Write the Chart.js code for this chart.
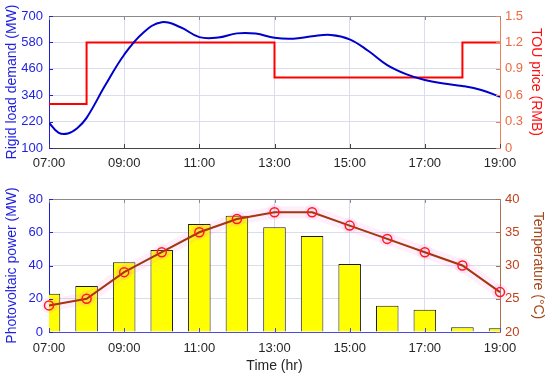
<!DOCTYPE html>
<html>
<head>
<meta charset="utf-8">
<script src="https://cdn.jsdelivr.net/npm/chart.js@4.4.1/dist/chart.umd.min.js"></script>
<style>
  html, body { margin: 0; padding: 0; background: #fff; }
  #wrap { position: relative; width: 550px; height: 375px; }
  #loadChart { position: absolute; left: 0; top: 0; }
  #pvChart { position: absolute; left: 0; top: 175px; }
</style>
</head>
<body>
<div id="wrap">
  <canvas id="loadChart" width="550" height="175"></canvas>
  <canvas id="pvChart" width="550" height="200"></canvas>
</div>
<script>
// top panel: rigid load demand and TOU price steps
const loadHours = [7, 7.25, 7.5, 7.75, 8, 8.5, 9, 9.5, 10, 10.5, 11, 11.5, 12, 12.5, 13, 13.5, 14, 14.5, 15, 15.5, 16, 16.5, 17, 17.5, 18, 18.5, 19];
const loadDemand = [215, 170, 166, 190, 237, 386, 524, 623, 672, 649, 604, 602, 621, 620, 601, 597, 608, 614, 594, 541, 477, 436, 409, 393, 382, 364, 333];
const priceHours = [7, 8, 13, 18, 19];
const touPrice = [0.5, 1.2, 0.8, 1.2, 1.2];

// bottom panel: hourly PV output and temperature
const hours = [7, 8, 9, 10, 11, 12, 13, 14, 15, 16, 17, 18, 19];
const pvPower = [23, 27.7, 42, 49.3, 65, 70, 63, 57.7, 40.9, 15.8, 13.4, 2.8, 2.2];
const temperature = [24, 25, 29, 32, 35, 37, 38, 38, 36, 34, 32, 30, 26];

const FONT = 'Liberation Sans, Arial, Helvetica, sans-serif';
const GRID = '#dcdcf0';
const BLUE = '#1f1fe0';

const toXY = (xs, ys) => xs.map((x, i) => ({ x: x, y: ys[i] }));
const hourLabel = v => (v < 10 ? '0' : '') + v + ':00';

// matlab style frame: grey top edge and short inward ticks
const framePlugin = {
  id: 'frame',
  afterDatasetsDraw(chart, args, opts) {
    const { ctx, chartArea: a, scales } = chart;
    const len = 4;
    ctx.save();
    ctx.lineWidth = 1;
    ctx.strokeStyle = opts.topColor;
    ctx.beginPath();
    ctx.moveTo(a.left, a.top + 0.5);
    ctx.lineTo(a.right, a.top + 0.5);
    ctx.stroke();

    scales.x.ticks.forEach(t => {
      const px = Math.round(scales.x.getPixelForValue(t.value)) + 0.5;
      ctx.strokeStyle = opts.xColor;
      ctx.beginPath(); ctx.moveTo(px, a.bottom); ctx.lineTo(px, a.bottom - len); ctx.stroke();
      ctx.strokeStyle = opts.topColor;
      ctx.beginPath(); ctx.moveTo(px, a.top); ctx.lineTo(px, a.top + len); ctx.stroke();
    });
    scales.y.ticks.forEach(t => {
      const py = Math.round(scales.y.getPixelForValue(t.value)) + 0.5;
      ctx.strokeStyle = opts.yColor;
      ctx.beginPath(); ctx.moveTo(a.left, py); ctx.lineTo(a.left + len, py); ctx.stroke();
    });
    scales.y1.ticks.forEach(t => {
      const py = Math.round(scales.y1.getPixelForValue(t.value)) + 0.5;
      ctx.strokeStyle = opts.y1Color;
      ctx.beginPath(); ctx.moveTo(a.right, py); ctx.lineTo(a.right - len, py); ctx.stroke();
    });
    ctx.restore();
  }
};

Chart.defaults.font.family = FONT;
Chart.defaults.animation = false;

new Chart(document.getElementById('loadChart'), {
  type: 'line',
  data: {
    datasets: [
      {
        label: 'Rigid load demand',
        data: toXY(loadHours, loadDemand),
        yAxisID: 'y',
        borderColor: '#0000cc',
        borderWidth: 2,
        pointRadius: 0,
        tension: 0.4
      },
      {
        label: 'TOU price',
        data: toXY(priceHours, touPrice),
        yAxisID: 'y1',
        borderColor: '#ff0000',
        borderWidth: 2,
        pointRadius: 0,
        stepped: 'before'
      }
    ]
  },
  options: {
    responsive: false,
    devicePixelRatio: 1,
    layout: { padding: { top: 16, left: 0, right: 0, bottom: 0 } },
    plugins: {
      legend: { display: false },
      tooltip: { enabled: false },
      frame: { topColor: '#8a8a8a', xColor: '#444444', yColor: BLUE, y1Color: '#ef7f55' }
    },
    scales: {
      x: {
        type: 'linear',
        min: 7, max: 19,
        afterFit: s => { s.height = 27; },
        ticks: { stepSize: 2, callback: hourLabel, color: '#262626', padding: 8, maxRotation: 0, font: { size: 13 } },
        grid: { color: GRID, drawTicks: false },
        border: { color: '#444444' }
      },
      y: {
        position: 'left',
        min: 100, max: 700,
        afterFit: s => { s.width = 49; },
        ticks: { stepSize: 120, color: BLUE, padding: 6, font: { size: 13 } },
        grid: { color: GRID, drawTicks: false },
        border: { color: BLUE },
        title: { display: true, text: 'Rigid load demand (MW)', color: BLUE, font: { size: 14 }, padding: { top: 4 } }
      },
      y1: {
        position: 'right',
        min: 0, max: 1.5,
        afterFit: s => { s.width = 50; },
        ticks: { stepSize: 0.3, color: '#ec6a3f', padding: 5, font: { size: 13 } },
        grid: { drawOnChartArea: false, drawTicks: false },
        border: { color: '#ef7f55' },
        title: { display: true, text: 'TOU price (RMB)', color: '#ff1010', font: { size: 14 }, padding: { top: 6 } }
      }
    }
  },
  plugins: [framePlugin]
});

new Chart(document.getElementById('pvChart'), {
  type: 'bar',
  data: {
    datasets: [
      {
        type: 'line',
        label: 'Temperature',
        data: toXY(hours, temperature),
        yAxisID: 'y1',
        borderColor: '#a3360c',
        borderWidth: 2,
        pointRadius: 4.5,
        pointBorderWidth: 1.5,
        pointBorderColor: '#ff1a1a',
        pointBackgroundColor: 'rgba(0,0,0,0)',
        tension: 0,
        clip: false,
        order: 0
      },
      {
        type: 'line',
        label: 'glow',
        data: toXY(hours, temperature),
        yAxisID: 'y1',
        borderColor: 'rgba(255,110,225,0.11)',
        borderWidth: 12,
        pointRadius: 8,
        pointBorderWidth: 0,
        pointBackgroundColor: 'rgba(255,110,225,0.12)',
        tension: 0,
        clip: false,
        order: 1
      },
      {
        label: 'Photovoltaic power',
        data: toXY(hours, pvPower),
        yAxisID: 'y',
        backgroundColor: '#ffff00',
        borderColor: '#1a1a1a',
        borderWidth: 1,
        barPercentage: 0.6,
        categoryPercentage: 1,
        clip: 0,
        order: 2
      }
    ]
  },
  options: {
    responsive: false,
    devicePixelRatio: 1,
    layout: { padding: { top: 24, left: 0, right: 0, bottom: 0 } },
    plugins: {
      legend: { display: false },
      tooltip: { enabled: false },
      frame: { topColor: '#8a8a8a', xColor: '#4a4ae0', yColor: BLUE, y1Color: '#b0704a' }
    },
    scales: {
      x: {
        type: 'linear',
        offset: false,
        min: 7, max: 19,
        afterFit: s => { s.height = 43; },
        ticks: { stepSize: 2, callback: hourLabel, color: '#262626', padding: 9, maxRotation: 0, font: { size: 13 } },
        grid: { color: GRID, drawTicks: false, offset: false },
        border: { color: '#4a4ae0' },
        title: { display: true, text: 'Time (hr)', color: '#262626', font: { size: 14 }, padding: { bottom: 0 } }
      },
      y: {
        position: 'left',
        min: 0, max: 80,
        afterFit: s => { s.width = 49; },
        ticks: { stepSize: 20, color: BLUE, padding: 6, font: { size: 13 } },
        grid: { color: GRID, drawTicks: false },
        border: { color: BLUE },
        title: { display: true, text: 'Photovoltaic power (MW)', color: BLUE, font: { size: 14 }, padding: { top: 4 } }
      },
      y1: {
        position: 'right',
        min: 20, max: 40,
        afterFit: s => { s.width = 50; },
        ticks: { stepSize: 5, color: '#c2401c', padding: 5, font: { size: 13 } },
        grid: { drawOnChartArea: false, drawTicks: false },
        border: { color: '#b0704a' },
        title: { display: true, text: 'Temperature (°C)', color: '#a6481c', font: { size: 14 }, padding: { top: 4 } }
      }
    }
  },
  plugins: [framePlugin]
});
</script>
</body>
</html>
